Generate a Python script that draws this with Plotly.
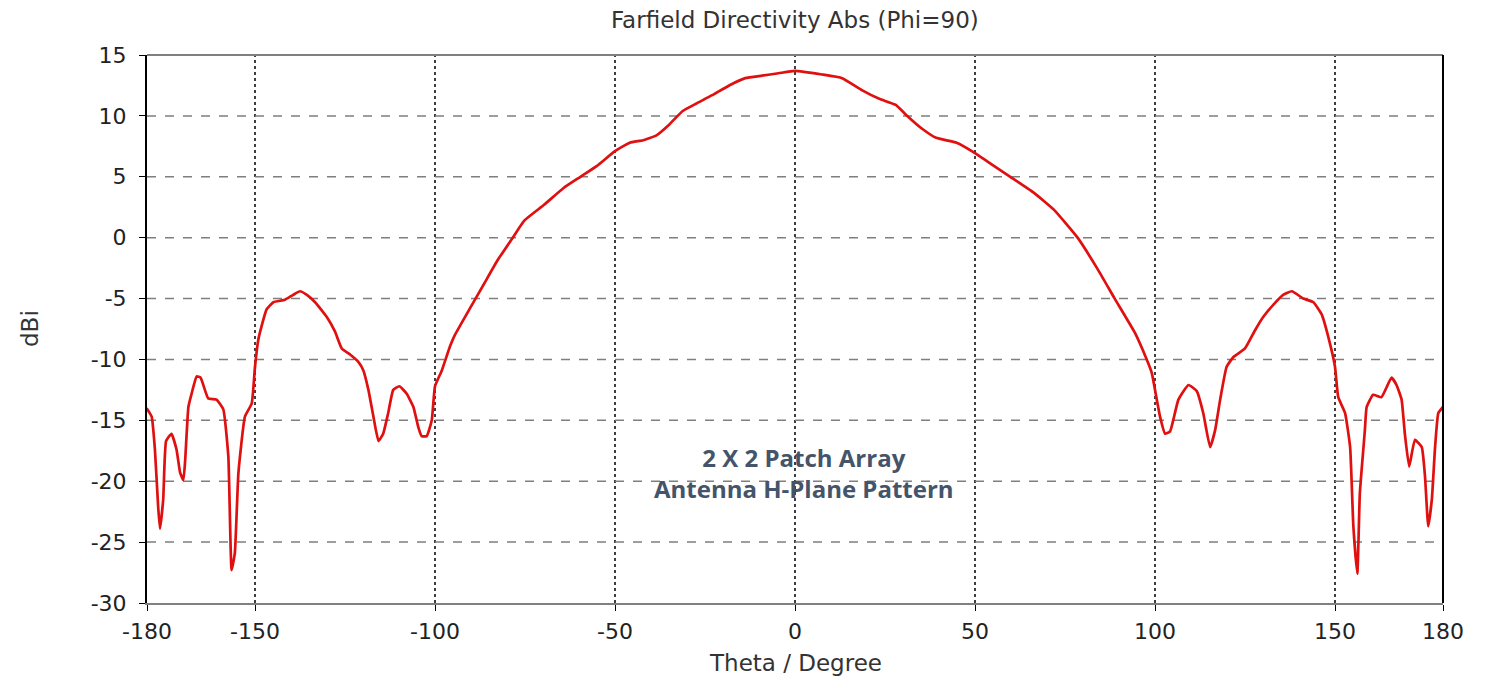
import plotly.graph_objects as go

theta = [-180.1, -178.7, -177.8, -176.9, -176.4, -175.5, -174.7, -173.2, -171.8, -170.8, -169.9, -169.4,
         -168.5, -167.6, -166.2, -165.1, -163.0, -160.7, -158.8, -157.4, -156.5, -155.6, -154.6, -152.8,
         -150.9, -150.0, -149.1, -148.2, -146.8, -144.9, -141.7, -139.4, -137.5, -135.6, -133.3, -130.1,
         -127.8, -125.9, -123.6, -121.3, -119.9, -118.5, -117.1, -115.7, -114.4, -113.0, -111.6, -109.9,
         -107.9, -106.0, -104.6, -103.7, -102.3, -100.9, -100.0, -98.1, -95.8, -94.5, -89.9, -86.2,
         -82.5, -78.4, -75.2, -69.7, -64.2, -59.6, -55.0, -50.0, -45.9, -42.2, -38.5, -34.9,
         -31.2, -27.5, -23.0, -18.3, -13.8, -9.2, -4.6, 0.0, 7.5, 13.1, 18.7, 23.4,
         28.0, 30.8, 35.5, 39.2, 44.9, 50.0, 54.2, 59.8, 66.3, 71.9, 78.5, 84.1,
         88.8, 94.4, 97.7, 99.1, 100.5, 101.4, 102.8, 104.2, 106.5, 109.3, 111.6, 113.4,
         115.3, 116.7, 118.1, 119.9, 121.8, 125.0, 127.8, 130.1, 132.9, 135.6, 138.0, 141.2,
         144.0, 146.3, 148.1, 150.0, 150.9, 152.8, 154.2, 155.1, 156.2, 156.9, 158.3, 158.8,
         160.6, 162.9, 165.7, 167.1, 168.5, 169.4, 170.6, 172.2, 174.1, 175.0, 175.9, 176.9,
         177.8, 178.7, 180.0]

directivity = [-14.0, -14.7, -17.4, -22.1, -23.9, -21.5, -16.7, -16.1, -17.4, -19.3, -19.9, -18.3,
               -13.9, -12.8, -11.4, -11.5, -13.2, -13.3, -14.1, -18.0, -27.3, -25.9, -19.3, -14.7,
               -13.6, -10.6, -8.4, -7.3, -5.9, -5.3, -5.1, -4.7, -4.4, -4.7, -5.3, -6.5,
               -7.7, -9.1, -9.6, -10.2, -10.9, -12.5, -14.7, -16.7, -16.1, -14.4, -12.5, -12.2,
               -12.8, -13.9, -15.6, -16.3, -16.3, -15.0, -12.2, -10.9, -8.9, -8.0, -5.6, -3.7,
               -1.8, 0.0, 1.4, 2.7, 4.1, 5.0, 5.9, 7.1, 7.8, 8.0, 8.4, 9.3,
               10.4, 11.0, 11.7, 12.5, 13.1, 13.3, 13.5, 13.7, 13.4, 13.1, 12.1, 11.4,
               10.9, 10.1, 8.9, 8.2, 7.8, 6.95, 6.1, 5.0, 3.7, 2.3, 0.0, -2.6,
               -5.0, -7.8, -10.0, -11.1, -13.3, -14.7, -16.1, -15.9, -13.3, -12.1, -12.6, -14.4,
               -17.2, -15.8, -13.3, -10.6, -9.8, -9.1, -7.6, -6.5, -5.5, -4.7, -4.4, -5.0,
               -5.3, -6.3, -8.1, -10.6, -13.1, -14.4, -17.2, -23.7, -27.6, -21.0, -15.8, -13.9,
               -12.9, -13.1, -11.5, -12.1, -13.3, -16.1, -18.8, -16.6, -17.2, -19.6, -23.7, -21.5,
               -17.2, -14.4, -13.9]

x_ticks = [-180, -150, -100, -50, 0, 50, 100, 150, 180]
y_ticks = [-30, -25, -20, -15, -10, -5, 0, 5, 10, 15]
x_grid = [-150, -100, -50, 0, 50, 100, 150]

fig = go.Figure()
fig.add_trace(go.Scatter(x=theta, y=directivity, mode="lines",
                         line=dict(color="#e01010", width=2.7, shape="spline", smoothing=0.4),
                         showlegend=False))

for g in x_grid:
    fig.add_shape(type="line", xref="x", yref="paper", x0=g, x1=g, y0=0, y1=1,
                  line=dict(color="black", width=1.5, dash="dot"), layer="below")
for g in y_ticks[1:-1]:
    fig.add_shape(type="line", xref="paper", yref="y", x0=0, x1=1, y0=g, y1=g,
                  line=dict(color="#7f7f7f", width=1.5, dash="dash"), layer="below")

fig.add_annotation(x=2.5, y=-19.3, xref="x", yref="y",
                   text="<b>2 X 2 Patch Array</b><br><b>Antenna H-Plane Pattern</b>",
                   showarrow=False, align="center",
                   font=dict(family="Open Sans, Liberation Sans", size=24, color="#44546A"))

tick_font = dict(family="DejaVu Sans", size=22, color="#222222")
label_font = dict(family="DejaVu Sans", size=23, color="#333333")

fig.add_annotation(x=0.5, y=1, xref="paper", yref="paper", yshift=35,
                   text="Farfield Directivity Abs (Phi=90)", showarrow=False,
                   xanchor="center", yanchor="middle",
                   font=dict(family="DejaVu Sans", size=23, color="#333333"))
fig.add_annotation(x=0.5, y=0, xref="paper", yref="paper", yshift=-60,
                   text="Theta / Degree", showarrow=False,
                   xanchor="center", yanchor="middle", font=label_font)
fig.add_annotation(x=0, y=0.5, xref="paper", yref="paper", xshift=-117,
                   text="dBi", showarrow=False, textangle=-90,
                   xanchor="center", yanchor="middle", font=label_font)

fig.update_layout(
    width=1474, height=676,
    margin=dict(l=139, r=39, t=47, b=81),
    paper_bgcolor="white", plot_bgcolor="white",
    xaxis=dict(range=[-180, 180], tickvals=x_ticks, ticktext=[str(v) for v in x_ticks],
               showgrid=False, zeroline=False, showline=True, linecolor="#808080", linewidth=2,
               mirror=False, ticks="outside", ticklen=6, tickcolor="black", tickfont=tick_font,
               ticklabelstandoff=2, automargin=False),
    yaxis=dict(range=[-30, 15], tickvals=y_ticks, ticktext=[str(v) for v in y_ticks],
               showgrid=False, zeroline=False, showline=True, linecolor="black", linewidth=2,
               mirror=False, ticks="outside", ticklen=6, tickcolor="black", tickfont=tick_font,
               ticklabelstandoff=8, automargin=False),
)
fig.add_shape(type="line", xref="paper", yref="paper", x0=0, x1=1, y0=1, y1=1,
              line=dict(color="#808080", width=2))
fig.add_shape(type="line", xref="paper", yref="paper", x0=1, x1=1, y0=0, y1=1,
              line=dict(color="black", width=2))

fig.write_html("out.html")
